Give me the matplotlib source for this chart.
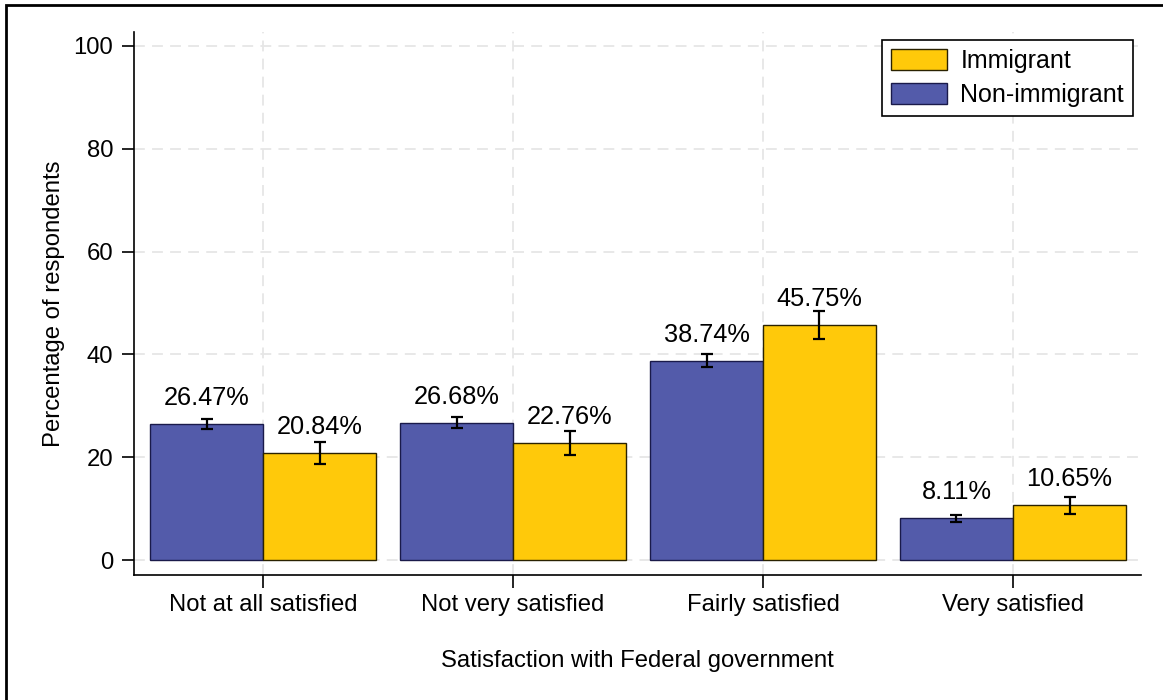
import matplotlib
matplotlib.use("Agg")
import matplotlib.pyplot as plt
from matplotlib.patches import Rectangle, Patch
import numpy as np

plt.rcParams['font.family'] = ['Liberation Sans', 'DejaVu Sans']

categories = ["Not at all satisfied", "Not very satisfied", "Fairly satisfied", "Very satisfied"]
non_immigrant = [26.47, 26.68, 38.74, 8.11]
non_immigrant_err = [1.05, 1.05, 1.25, 0.75]
immigrant = [20.84, 22.76, 45.75, 10.65]
immigrant_err = [2.2, 2.3, 2.7, 1.65]
yticks = [0, 20, 40, 60, 80, 100]

blue = "#535BAA"
yellow = "#FFC90A"

fig = plt.figure(figsize=(11.63, 7.0), dpi=100)
ax = fig.add_axes([134/1163, 1-575/700, (1141-134)/1163, (575-32)/700])

x = np.arange(len(categories))
w = 0.452
ax.bar(x - w/2, non_immigrant, w, color=blue, edgecolor="#1a1a4a", linewidth=1.0, zorder=3)
ax.bar(x + w/2, immigrant, w, color=yellow, edgecolor="#2a2200", linewidth=1.0, zorder=3)
ax.errorbar(x - w/2, non_immigrant, yerr=non_immigrant_err, fmt='none', ecolor='black',
            elinewidth=1.6, capsize=4, capthick=1.6, zorder=4)
ax.errorbar(x + w/2, immigrant, yerr=immigrant_err, fmt='none', ecolor='black',
            elinewidth=1.6, capsize=4, capthick=1.6, zorder=4)

for xi, v in zip(x - w/2, non_immigrant):
    ax.text(xi, v + 5.1, f"{v:.2f}%", ha='center', va='center', fontsize=18.3, zorder=5)
for xi, v in zip(x + w/2, immigrant):
    ax.text(xi, v + 5.1, f"{v:.2f}%", ha='center', va='center', fontsize=18.3, zorder=5)

ax.set_xlim(-0.516, 3.512)
ax.set_ylim(-2.9, 102.7)
ax.set_yticks(yticks)
ax.set_yticklabels([str(t) for t in yticks], fontsize=17.2)
ax.set_xticks(x)
ax.set_xticklabels(categories, fontsize=17.2)
ax.tick_params(axis='both', length=9, width=1.2, direction='out', pad=6)
ax.tick_params(axis='x', pad=5)

ax.grid(True, color='#e6e6e6', linestyle=(0, (6, 4)), linewidth=1.3, zorder=0)
ax.set_axisbelow(True)
for s in ['top', 'right']:
    ax.spines[s].set_visible(False)
for s in ['left', 'bottom']:
    ax.spines[s].set_linewidth(1.2)

ax.set_ylabel("Percentage of respondents", fontsize=17.2, labelpad=6)
ax.set_xlabel("Satisfaction with Federal government", fontsize=17.2, labelpad=24)

handles = [Patch(facecolor=yellow, edgecolor="#2a2200", label="Immigrant"),
           Patch(facecolor=blue, edgecolor="#1a1a4a", label="Non-immigrant")]
leg = ax.legend(handles=handles, loc='upper right', bbox_to_anchor=(0.992, 0.9853),
                borderaxespad=0,
                fontsize=18, frameon=True, fancybox=False, framealpha=1,
                edgecolor='black', handlelength=2.24, handleheight=0.88,
                borderpad=0.36, labelspacing=0.4, handletextpad=0.55)
leg.get_frame().set_linewidth(1.2)

fig.patches.append(Rectangle((6/1163, -0.05), 1.1, 1 - 5/700 + 0.05, transform=fig.transFigure,
                             fill=False, edgecolor='black', linewidth=2.0))

fig.savefig("out.png", dpi=100)
